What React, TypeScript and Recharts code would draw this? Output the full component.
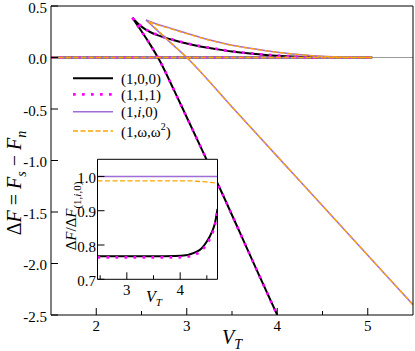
import React from "react";
import { LineChart, Line, XAxis, YAxis, ReferenceLine } from "recharts";

const FONT = "Liberation Serif, DejaVu Serif, serif";
const BLACK = "#000000";
const MAGENTA = "#ff00ff";
const PURPLE = "#a06cd5";
const ORANGE = "#ffa500";

// main panel axes
const mainXTicks = [1.5, 2, 2.5, 3, 3.5, 4, 4.5, 5, 5.5];
const mainYTicks = [-2.5, -2, -1.5, -1, -0.5, 0, 0.5];

// (1,0,0)
const vLow100 = [2.4, 2.5, 2.6, 2.7, 2.85, 3.0, 3.2, 3.4, 3.6, 3.8, 4.0];
const fLow100 = [0.385, 0.255, 0.12, -0.03, -0.3, -0.58, -0.955, -1.335, -1.725, -2.115, -2.5];
const vUp100 = [2.4, 2.5, 2.6, 2.7, 2.85, 3.0, 3.15, 3.3, 3.5, 3.7, 3.9, 4.1, 4.3, 4.45];
const fUp100 = [0.385, 0.3, 0.245, 0.21, 0.17, 0.135, 0.107, 0.085, 0.058, 0.038, 0.023, 0.012, 0.004, 0];

// (1,1,1)
const vLow111 = [2.4, 2.5, 2.6, 2.7, 2.85, 3.0, 3.2, 3.4, 3.6, 3.8, 4.0];
const fLow111 = [0.385, 0.255, 0.12, -0.03, -0.3, -0.58, -0.955, -1.335, -1.725, -2.115, -2.5];
const vUp111 = [2.4, 2.5, 2.6, 2.7, 2.85, 3.0, 3.15, 3.3, 3.5, 3.7, 3.9, 4.1, 4.3, 4.45];
const fUp111 = [0.385, 0.302, 0.248, 0.213, 0.173, 0.138, 0.11, 0.088, 0.06, 0.04, 0.025, 0.013, 0.005, 0];

// (1,i,0)
const vLow1i0 = [2.55, 2.75, 3.0, 3.5, 4.0, 4.5, 5.0, 5.5];
const fLow1i0 = [0.364, 0.2, 0.0, -0.48, -0.96, -1.44, -1.92, -2.4];
const vUp1i0 = [2.55, 2.65, 2.8, 3.0, 3.15, 3.3, 3.5, 3.7, 3.9, 4.1, 4.3, 4.5, 4.7, 4.9];
const fUp1i0 = [0.364, 0.33, 0.29, 0.235, 0.195, 0.16, 0.12, 0.09, 0.063, 0.041, 0.024, 0.012, 0.005, 0];

// (1,w,w^2)
const vLowW = [2.58, 2.78, 3.0, 3.5, 4.0, 4.5, 5.0, 5.5];
const fLowW = [0.348, 0.18, 0.0, -0.48, -0.96, -1.44, -1.92, -2.4];
const vUpW = [2.58, 2.65, 2.8, 3.0, 3.15, 3.3, 3.5, 3.7, 3.9, 4.1, 4.3, 4.5, 4.7, 4.9, 5.05];
const fUpW = [0.348, 0.325, 0.285, 0.231, 0.192, 0.157, 0.118, 0.088, 0.062, 0.04, 0.023, 0.011, 0.004, 0.001, 0];

// normal state branch
const vNormal = [1.5, 5.05];
const fNormal = [0, 0];

// inset: dF / dF(1,i,0)
const insetXTicks = [2.5, 3, 3.5, 4, 4.5];
const insetYTicks = [0.7, 0.8, 0.9, 1.0];
const vInset = [2.45, 3.0, 3.5, 3.9, 4.1, 4.2, 4.3, 4.4, 4.5, 4.6, 4.65, 4.7];
const rInset100 = [0.767, 0.767, 0.767, 0.768, 0.77, 0.774, 0.78, 0.79, 0.81, 0.84, 0.862, 0.905];
const rInset111 = [0.764, 0.764, 0.764, 0.764, 0.765, 0.768, 0.774, 0.784, 0.803, 0.833, 0.857, 0.9];
const rInset1i0 = [1, 1, 1, 1, 1, 1, 1, 1, 1, 1, 1, 1];
const rInsetW = [0.987, 0.987, 0.987, 0.987, 0.987, 0.987, 0.986, 0.985, 0.984, 0.982, 0.981, 0.979];

const pts = (xs: number[], ys: number[]) => xs.map((x, i) => ({ x, y: ys[i] }));

const BottomTick = (p: any) => {
  const v = p.payload.value;
  if (v <= p.lo || v >= p.hi) return <g />;
  const major = Number.isInteger(v);
  return (
    <g>
      <line x1={p.x} x2={p.x} y1={p.y} y2={p.y - (major ? 7 : 4)} stroke="#000" />
      {major && (
        <text x={p.x} y={p.y + 16} textAnchor="middle" fontFamily={FONT} fontSize={15} fill="#000">
          {v}
        </text>
      )}
    </g>
  );
};

const TopTick = (p: any) => {
  const v = p.payload.value;
  if (v <= p.lo || v >= p.hi) return <g />;
  const major = Number.isInteger(v);
  return <line x1={p.x} x2={p.x} y1={p.y} y2={p.y + (major ? 7 : 4)} stroke="#000" />;
};

const LeftTick = (p: any) => {
  const v = p.payload.value;
  return (
    <g>
      <line x1={p.x} x2={p.x + 7} y1={p.y} y2={p.y} stroke="#000" />
      <text x={p.x - p.gap} y={p.y + 6.5} textAnchor="end" fontFamily={FONT} fontSize={15} fill="#000">
        {v.toFixed(1)}
      </text>
    </g>
  );
};

const RightTick = (p: any) => <line x1={p.x} x2={p.x - 7} y1={p.y} y2={p.y} stroke="#000" />;

const series = (key: string, d: { x: number; y: number }[], color: string, kind: string) => {
  const style: any = { stroke: color, strokeWidth: 1.6 };
  if (kind === "solid") style.strokeWidth = 2;
  if (kind === "thin") style.strokeWidth = 1.5;
  if (kind === "dot") {
    style.strokeWidth = 2.7;
    style.strokeDasharray = "2.7 6.3";
  }
  if (kind === "dash") {
    style.strokeWidth = 1.3;
    style.strokeDasharray = "5 2.5";
  }
  return (
    <Line
      key={key}
      data={d}
      dataKey="y"
      type="monotone"
      dot={false}
      activeDot={false}
      isAnimationActive={false}
      {...style}
    />
  );
};

export default function App() {
  return (
    <div
      style={{
        position: "absolute",
        left: 0,
        top: 0,
        width: 415,
        height: 351,
        background: "#fff",
        fontFamily: FONT,
      }}
    >
      <div style={{ position: "absolute", left: 0, top: 0 }}>
        <LineChart width={415} height={351} margin={{ top: 0, right: 0, bottom: 0, left: 0 }}>
          <XAxis
            dataKey="x"
            type="number"
            domain={[1.5, 5.5]}
            ticks={mainXTicks}
            interval={0}
            allowDataOverflow
            height={36}
            tickSize={0}
            tickMargin={0}
            tickLine={false}
            axisLine={{ stroke: "#000" }}
            tick={(p: any) => <BottomTick {...p} lo={1.5} hi={5.5} />}
          />
          <XAxis
            xAxisId="top"
            orientation="top"
            type="number"
            domain={[1.5, 5.5]}
            ticks={mainXTicks}
            interval={0}
            height={6}
            tickSize={0}
            tickMargin={0}
            tickLine={false}
            axisLine={{ stroke: "#000" }}
            tick={(p: any) => <TopTick {...p} lo={1.5} hi={5.5} />}
          />
          <YAxis
            type="number"
            domain={[-2.5, 0.5]}
            ticks={mainYTicks}
            interval={0}
            allowDataOverflow
            width={51}
            tickSize={0}
            tickMargin={0}
            tickLine={false}
            axisLine={{ stroke: "#000" }}
            tick={(p: any) => <LeftTick {...p} gap={4} />}
          />
          <YAxis
            yAxisId="right"
            orientation="right"
            type="number"
            domain={[-2.5, 0.5]}
            ticks={mainYTicks}
            interval={0}
            width={2}
            tickSize={0}
            tickMargin={0}
            tickLine={false}
            axisLine={{ stroke: "#000" }}
            tick={(p: any) => <RightTick {...p} />}
          />
          <ReferenceLine y={0} stroke="#9a9a9a" strokeWidth={1.2} />
          {series("n100", pts(vNormal, fNormal), BLACK, "solid")}
          {series("l100", pts(vLow100, fLow100), BLACK, "solid")}
          {series("u100", pts(vUp100, fUp100), BLACK, "solid")}
          {series("n111", pts(vNormal, fNormal), MAGENTA, "dot")}
          {series("l111", pts(vLow111, fLow111), MAGENTA, "dot")}
          {series("u111", pts(vUp111, fUp111), MAGENTA, "dot")}
          {series("n1i0", pts(vNormal, fNormal), PURPLE, "thin")}
          {series("l1i0", pts(vLow1i0, fLow1i0), PURPLE, "thin")}
          {series("u1i0", pts(vUp1i0, fUp1i0), PURPLE, "thin")}
          {series("nW", pts(vNormal, fNormal), ORANGE, "dash")}
          {series("lW", pts(vLowW, fLowW), ORANGE, "dash")}
          {series("uW", pts(vUpW, fUpW), ORANGE, "dash")}
        </LineChart>
      </div>

      <div style={{ position: "absolute", left: 97.5, top: 159.3, width: 120, height: 120, background: "#fff" }} />

      <div style={{ position: "absolute", left: 60, top: 150 }}>
        <LineChart width={170} height={165} margin={{ top: 0, right: 0, bottom: 0, left: 0 }}>
          <XAxis
            dataKey="x"
            type="number"
            domain={[2.45, 4.7]}
            ticks={insetXTicks}
            interval={0}
            allowDataOverflow
            height={35.7}
            tickSize={0}
            tickMargin={0}
            tickLine={false}
            axisLine={{ stroke: "#000" }}
            tick={(p: any) => <BottomTick {...p} lo={2.45} hi={4.7} />}
          />
          <XAxis
            xAxisId="top"
            orientation="top"
            type="number"
            domain={[2.45, 4.7]}
            ticks={insetXTicks}
            interval={0}
            height={9.3}
            tickSize={0}
            tickMargin={0}
            tickLine={false}
            axisLine={{ stroke: "#000" }}
            tick={(p: any) => <TopTick {...p} lo={2.45} hi={4.7} />}
          />
          <YAxis
            type="number"
            domain={[0.7, 1.05]}
            ticks={insetYTicks}
            interval={0}
            allowDataOverflow
            width={37.5}
            tickSize={0}
            tickMargin={0}
            tickLine={false}
            axisLine={{ stroke: "#000" }}
            tick={(p: any) => <LeftTick {...p} gap={1.5} />}
          />
          <YAxis
            yAxisId="right"
            orientation="right"
            type="number"
            domain={[0.7, 1.05]}
            ticks={insetYTicks}
            interval={0}
            width={12.5}
            tickSize={0}
            tickMargin={0}
            tickLine={false}
            axisLine={{ stroke: "#000" }}
            tick={(p: any) => <RightTick {...p} />}
          />
          {series("i100", pts(vInset, rInset100), BLACK, "solid")}
          {series("i111", pts(vInset, rInset111), MAGENTA, "dot")}
          {series("i1i0", pts(vInset, rInset1i0), PURPLE, "thin")}
          {series("iW", pts(vInset, rInsetW), ORANGE, "dash")}
        </LineChart>
      </div>

      <svg
        width={415}
        height={351}
        style={{ position: "absolute", left: 0, top: 0, pointerEvents: "none", fontFamily: FONT }}
      >
        {/* main axis titles */}
        <text transform="translate(21,183) rotate(-90)" textAnchor="middle" fontSize={20} fontFamily={FONT}>
          Δ<tspan fontStyle="italic">F</tspan> = <tspan fontStyle="italic">F</tspan>
          <tspan fontSize={14} fontStyle="italic" dy={5}>s</tspan>
          <tspan dy={-5}> − </tspan>
          <tspan fontStyle="italic">F</tspan>
          <tspan fontSize={14} fontStyle="italic" dy={5}>n</tspan>
        </text>
        <text x={232} y={344} textAnchor="middle" fontSize={20} fontFamily={FONT}>
          <tspan fontStyle="italic">V</tspan>
          <tspan fontStyle="italic" fontSize={14} dy={5}>T</tspan>
        </text>

        {/* inset axis titles */}
        <text transform="translate(76,216) rotate(-90)" textAnchor="middle" fontSize={15} fontFamily={FONT}>
          Δ<tspan fontStyle="italic">F</tspan>/Δ<tspan fontStyle="italic">F</tspan>
          <tspan fontSize={11} dy={5}>(1,</tspan>
          <tspan fontSize={11} fontStyle="italic">i</tspan>
          <tspan fontSize={11}>,0)</tspan>
        </text>
        <text x={154} y={302} textAnchor="middle" fontSize={16} fontFamily={FONT}>
          <tspan fontStyle="italic">V</tspan>
          <tspan fontStyle="italic" fontSize={11} dy={4}>T</tspan>
        </text>

        {/* legend */}
        <g fontFamily={FONT} fontSize={15}>
          <line x1={73} x2={113} y1={78.3} y2={78.3} stroke={BLACK} strokeWidth={2} />
          <text x={121} y={83.5}>(1,0,0)</text>
          <line x1={73} x2={113} y1={94.3} y2={94.3} stroke={MAGENTA} strokeWidth={2.7} strokeDasharray="2.7 6.3" />
          <text x={121} y={99.5}>(1,1,1)</text>
          <line x1={73} x2={113} y1={111.7} y2={111.7} stroke={PURPLE} strokeWidth={1.5} />
          <text x={121} y={117}>
            (1,<tspan fontStyle="italic">i</tspan>,0)
          </text>
          <line x1={73} x2={113} y1={131} y2={131} stroke={ORANGE} strokeWidth={1.3} strokeDasharray="5 2.5" />
          <text x={121} y={137}>
            (1,ω,ω<tspan fontSize={10} dy={-7}>2</tspan>
            <tspan dy={7}>)</tspan>
          </text>
        </g>
      </svg>
    </div>
  );
}
